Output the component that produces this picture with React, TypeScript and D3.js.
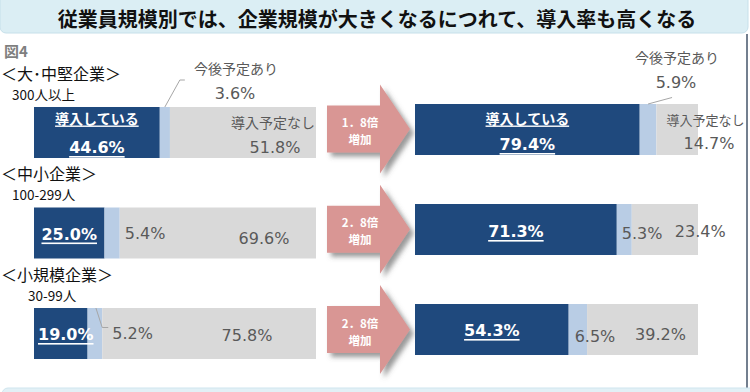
import React from 'react';
import { scaleLinear, scalePoint, line } from 'd3';

const groups = ['＜大･中堅企業＞', '＜中小企業＞', '＜小規模企業＞'];
const sizes = ['300人以上', '100-299人', '30-99人'];
const beforeIntro = [44.6, 25.0, 19.0];
const beforePlan = [3.6, 5.4, 5.2];
const beforeNone = [51.8, 69.6, 75.8];
const afterIntro = [79.4, 71.3, 54.3];
const afterPlan = [5.9, 5.3, 6.5];
const afterNone = [14.7, 23.4, 39.2];
const ratios = ['1．8倍', '2．8倍', '2．8倍'];

const NAVY = '#1f497d';
const LIGHT = '#b9cde5';
const GRAY = '#d9d9d9';
const TXT = '#595959';
const PINK = '#d99694';
const JP = '"Noto Sans CJK JP", sans-serif';
const NUM = '"DejaVu Sans", "Noto Sans CJK JP", sans-serif';

const W = 750;
const H = 392;
const barH = 51;

const xL = scaleLinear().domain([0, 100]).range([34, 316]);
const xR = scaleLinear().domain([0, 100]).range([415, 698]);
const yL = scalePoint<number>().domain([0, 1, 2]).range([132.5, 333.5]);
const yR = scalePoint<number>().domain([0, 1, 2]).range([129.5, 329.5]);

const fmt = (v: number) => v.toFixed(1) + '%';
const pathOf = line();

function Bar({ x, cy, intro, plan, none }: any) {
  const top = cy - barH / 2;
  return (
    <g>
      <rect x={x(0)} y={top} width={x(intro) - x(0)} height={barH} fill={NAVY} />
      <rect x={x(intro)} y={top} width={x(intro + plan) - x(intro)} height={barH} fill={LIGHT} />
      <rect x={x(intro + plan)} y={top} width={x(intro + plan + none) - x(intro + plan)} height={barH} fill={GRAY} />
    </g>
  );
}

function Arrow({ cy, label }: { cy: number; label: string }) {
  const x0 = 327, x1 = 380, tip = 410, bh = 23.5, hh = 44.5;
  const pts: [number, number][] = [
    [x0, cy - bh], [x1, cy - bh], [x1, cy - hh], [tip, cy],
    [x1, cy + hh], [x1, cy + bh], [x0, cy + bh],
  ];
  return (
    <g>
      <path d={pathOf(pts) + 'Z'} fill={PINK} filter="url(#shadow)" />
      <text textAnchor="middle" fill="#fff" fontFamily={JP} fontWeight="bold" fontSize={11.5}>
        <tspan x={360} y={cy - 2}>{label}</tspan>
        <tspan x={360} y={cy + 15}>増加</tspan>
      </text>
    </g>
  );
}

function T({ x, y, children, anchor = 'middle', size = 16, color = TXT, bold = false, underline = false, family = NUM }: any) {
  return (
    <text x={x} y={y} textAnchor={anchor} dominantBaseline="central" fontSize={size}
      fill={color} fontWeight={bold ? 'bold' : 'normal'} fontFamily={family}
      textDecoration={underline ? 'underline' : undefined}>{children}</text>
  );
}

export default function App() {
  const lead = (pts: [number, number][]) => (
    <path d={pathOf(pts) || ''} fill="none" stroke="#a6a6a6" strokeWidth={1} />
  );
  return (
    <svg width={W} height={H} style={{ position: 'absolute', left: 0, top: 0, background: '#fff' }}>
      <defs>
        <filter id="shadow" x="-20%" y="-20%" width="150%" height="150%">
          <feDropShadow dx={4} dy={4} stdDeviation={2.5} floodColor="#555" floodOpacity={0.6} />
        </filter>
      </defs>

      {/* title banner */}
      <rect x={0} y={-10} width={748} height={43} rx={6} fill="#dbeef4" stroke="#c6e0ea" />
      <text x={377} y={18} textAnchor="middle" dominantBaseline="central" fontFamily={JP}
        fontWeight="bold" fontSize={20} fill="#111">従業員規模別では、企業規模が大きくなるにつれて、導入率も高くなる</text>

      <T x={4} y={50} anchor="start" size={15} color="#7f7f7f" bold family={JP}>図4</T>

      {groups.map((g, i) => (
        <g key={g}>
          <T x={1} y={yL(i)! - 60} anchor="start" size={16} color="#111" family={JP}>{g}</T>
          <T x={i === 2 ? 28 : 12} y={yL(i)! - 39} anchor="start" size={13.5} color="#111" family={JP}>{sizes[i]}</T>
        </g>
      ))}

      {groups.map((g, i) => (
        <g key={'b' + i}>
          <Bar x={xL} cy={yL(i)} intro={beforeIntro[i]} plan={beforePlan[i]} none={beforeNone[i]} />
          <Bar x={xR} cy={yR(i)} intro={afterIntro[i]} plan={afterPlan[i]} none={afterNone[i]} />
          <Arrow cy={(yL(i)! + yR(i)!) / 2 - 2} label={ratios[i]} />
        </g>
      ))}

      {/* left row 0 */}
      <T x={xL(beforeIntro[0] / 2)} y={yL(0)! - 15} size={14} color="#fff" bold underline family={JP}>導入している</T>
      <T x={xL(beforeIntro[0] / 2)} y={yL(0)! + 15} color="#fff" bold underline>{fmt(beforeIntro[0])}</T>
      {lead([[xL(beforeIntro[0] + beforePlan[0] / 2), yL(0)! - barH / 2], [xL(beforeIntro[0] + beforePlan[0] / 2) + 15, 80], [xL(beforeIntro[0] + beforePlan[0] / 2) + 20, 80]])}
      <T x={236} y={68} size={14} family={JP}>今後予定あり</T>
      <T x={235} y={93}>{fmt(beforePlan[0])}</T>
      <T x={xL(100) - 1} y={yL(0)! - 11} anchor="end" size={14} family={JP}>導入予定なし</T>
      <T x={xL(100) - 41} y={yL(0)! + 15}>{fmt(beforeNone[0])}</T>

      {/* left row 1 */}
      <T x={xL(beforeIntro[1] / 2)} y={yL(1)! + 1} color="#fff" bold underline>{fmt(beforeIntro[1])}</T>
      <T x={xL(beforeIntro[1] + beforePlan[1]) + 5} y={yL(1)!} anchor="start">{fmt(beforePlan[1])}</T>
      <T x={xL(100) - 52} y={yL(1)! + 5}>{fmt(beforeNone[1])}</T>

      {/* left row 2 */}
      <T x={xL(0) + 4} y={yL(2)! + 1} anchor="start" color="#fff" bold underline>{fmt(beforeIntro[2])}</T>
      {lead([[xL(beforeIntro[2] + beforePlan[2] / 2) + 1, yL(2)! - barH / 2], [xL(beforeIntro[2] + beforePlan[2]), yL(2)! - 6], [xL(beforeIntro[2] + beforePlan[2]) + 6, yL(2)! - 6]])}
      <T x={xL(beforeIntro[2] + beforePlan[2]) + 10} y={yL(2)!} anchor="start">{fmt(beforePlan[2])}</T>
      <T x={xL(100) - 69} y={yL(2)! + 2}>{fmt(beforeNone[2])}</T>

      {/* right row 0 */}
      <T x={xR(afterIntro[0] / 2)} y={yR(0)! - 12} size={14} color="#fff" bold underline family={JP}>導入している</T>
      <T x={xR(afterIntro[0] / 2)} y={yR(0)! + 15} color="#fff" bold underline>{fmt(afterIntro[0])}</T>
      {lead([[xR(afterIntro[0] + afterPlan[0] / 2), yR(0)! - barH / 2], [xR(afterIntro[0] + afterPlan[0] / 2) + 24, yR(0)! - 32]])}
      <T x={677} y={57} size={14} family={JP}>今後予定あり</T>
      <T x={676} y={82}>{fmt(afterPlan[0])}</T>
      <T x={xR(afterIntro[0] + afterPlan[0]) + 10} y={yR(0)! - 10} anchor="start" size={13} family={JP}>導入予定なし</T>
      <T x={xR(100) + 11} y={yR(0)! + 14}>{fmt(afterNone[0])}</T>

      {/* right row 1 */}
      <T x={xR(afterIntro[1] / 2)} y={yR(1)! + 2} color="#fff" bold underline>{fmt(afterIntro[1])}</T>
      <T x={xR(afterIntro[1]) + 5} y={yR(1)! + 4} anchor="start">{fmt(afterPlan[1])}</T>
      <T x={xR(afterIntro[1] + afterPlan[1]) + 43} y={yR(1)! + 2} anchor="start">{fmt(afterNone[1])}</T>

      {/* right row 2 */}
      <T x={xR(afterIntro[2] / 2)} y={yR(2)! + 1} color="#fff" bold underline>{fmt(afterIntro[2])}</T>
      <T x={xR(afterIntro[2]) + 6} y={yR(2)! + 7} anchor="start">{fmt(afterPlan[2])}</T>
      <T x={xR(afterIntro[2] + afterPlan[2]) + 48} y={yR(2)! + 5} anchor="start">{fmt(afterNone[2])}</T>

      {/* frame */}
      <line x1={747} x2={747} y1={34} y2={389} stroke="#44546a" strokeWidth={1.5} />
      <rect x={2} y={388} width={760} height={20} rx={6} fill="#e2f0f6" stroke="#cfe5ee" />
    </svg>
  );
}
